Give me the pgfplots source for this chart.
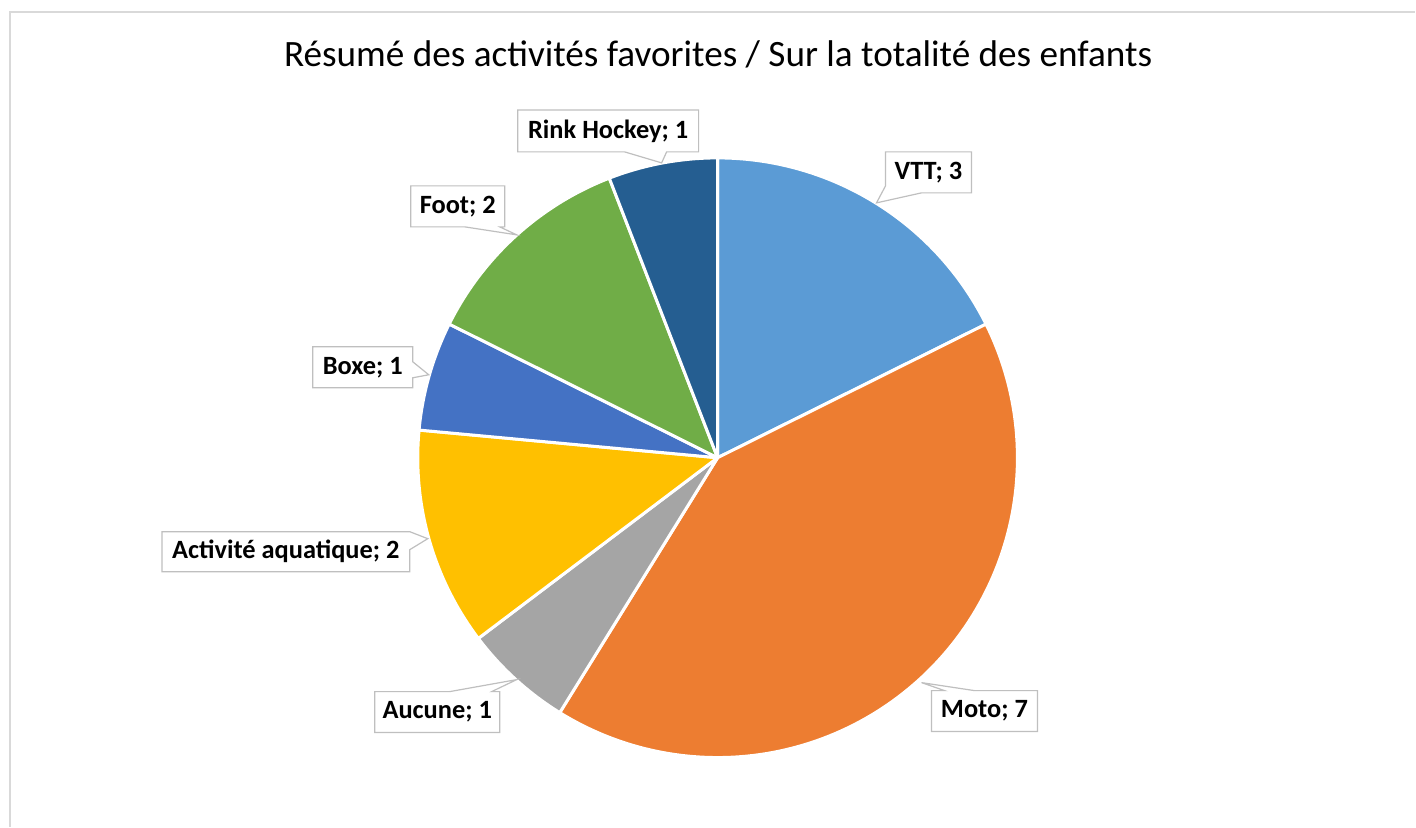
\documentclass[border=0pt]{standalone}
\usepackage{pgfplots}
\pgfplotsset{compat=1.18}
\usepackage{fontspec}
\setmainfont{Carlito}
\definecolor{cVTT}{HTML}{5B9BD5}
\definecolor{cMoto}{HTML}{ED7D31}
\definecolor{cAuc}{HTML}{A5A5A5}
\definecolor{cAqua}{HTML}{FFC000}
\definecolor{cBoxe}{HTML}{4472C4}
\definecolor{cFoot}{HTML}{70AD47}
\definecolor{cRink}{HTML}{255E91}
\definecolor{frame}{HTML}{D9D9D9}
\definecolor{callout}{HTML}{BFBFBF}
% counts: VTT 3, Moto 7, Aucune 1, Activite aquatique 2, Boxe 1, Foot 2, Rink Hockey 1 (total 17)
\pgfmathsetmacro\aA{90}
\pgfmathsetmacro\aB{\aA-360*3/17}
\pgfmathsetmacro\aC{\aB-360*7/17}
\pgfmathsetmacro\aD{\aC-360*1/17}
\pgfmathsetmacro\aE{\aD-360*2/17}
\pgfmathsetmacro\aF{\aE-360*1/17}
\pgfmathsetmacro\aG{\aF-360*2/17}
\pgfmathsetmacro\aH{\aG-360*1/17}
\begin{document}
\begin{tikzpicture}
\begin{axis}[
  width=708pt, height=413.5pt, scale only axis,
  xmin=0, xmax=1416, ymin=0, ymax=827,
  hide axis, clip=false,
]
\path (axis cs:0,0) rectangle (axis cs:1416,827);
\draw[frame, line width=0.8pt] (axis cs:10,0) -- (axis cs:10,815) -- (axis cs:1416,815);
\pgfplotsset{slice/.style={draw=white, line width=1.5pt, line join=round, samples=120, variable=\t}}
\addplot[slice, fill=cVTT, domain=\aB:\aA] ({718+300*cos(t)},{369+300*sin(t)}) -- (axis cs:718,369) -- cycle;
\addplot[slice, fill=cMoto, domain=\aC:\aB] ({718+300*cos(t)},{369+300*sin(t)}) -- (axis cs:718,369) -- cycle;
\addplot[slice, fill=cAuc, domain=\aD:\aC] ({718+300*cos(t)},{369+300*sin(t)}) -- (axis cs:718,369) -- cycle;
\addplot[slice, fill=cAqua, domain=\aE:\aD] ({718+300*cos(t)},{369+300*sin(t)}) -- (axis cs:718,369) -- cycle;
\addplot[slice, fill=cBoxe, domain=\aF:\aE] ({718+300*cos(t)},{369+300*sin(t)}) -- (axis cs:718,369) -- cycle;
\addplot[slice, fill=cFoot, domain=\aG:\aF] ({718+300*cos(t)},{369+300*sin(t)}) -- (axis cs:718,369) -- cycle;
\addplot[slice, fill=cRink, domain=\aH:\aG] ({718+300*cos(t)},{369+300*sin(t)}) -- (axis cs:718,369) -- cycle;
% title
\node[anchor=base, font=\fontsize{18.6}{21}\selectfont] at (axis cs:718.5,760) {Résumé des activités favorites / Sur la totalité des enfants};
% callouts
\tikzset{co/.style={fill=white, draw=callout, line width=0.6pt, line join=miter}}
\tikzset{lab/.style={font=\fontsize{13.2}{15}\selectfont\bfseries}}
\draw[co] (axis cs:518,717) -- (axis cs:699,717) -- (axis cs:699,675) -- (axis cs:667,675) -- (axis cs:662,664) -- (axis cs:625,675) -- (axis cs:518,675) -- cycle;
\node[lab] at (axis cs:608.5,696) {Rink Hockey; 1};
\draw[co] (axis cs:886,675) -- (axis cs:972,675) -- (axis cs:972,634) -- (axis cs:922,634) -- (axis cs:877,624) -- (axis cs:886,641) -- cycle;
\node[lab] at (axis cs:929,654.5) {VTT; 3};
\draw[co] (axis cs:411,641) -- (axis cs:505,641) -- (axis cs:505,600) -- (axis cs:500,600) -- (axis cs:517,592) -- (axis cs:465,600) -- (axis cs:411,600) -- cycle;
\node[lab] at (axis cs:458,620.5) {Foot; 2};
\draw[co] (axis cs:313,480) -- (axis cs:413,480) -- (axis cs:413,465) -- (axis cs:429,452) -- (axis cs:413,449) -- (axis cs:413,439) -- (axis cs:313,439) -- cycle;
\node[lab] at (axis cs:363,459.5) {Boxe; 1};
\draw[co] (axis cs:162,295) -- (axis cs:410,295) -- (axis cs:428,288) -- (axis cs:410,277) -- (axis cs:410,255) -- (axis cs:162,255) -- cycle;
\node[lab] at (axis cs:286,275) {Activité aquatique; 2};
\draw[co] (axis cs:375,135) -- (axis cs:450,135) -- (axis cs:517,147) -- (axis cs:492,135) -- (axis cs:500,135) -- (axis cs:500,94) -- (axis cs:375,94) -- cycle;
\node[lab] at (axis cs:437.5,114.5) {Aucune; 1};
\draw[co] (axis cs:932,136) -- (axis cs:945,136) -- (axis cs:922,144) -- (axis cs:975,136) -- (axis cs:1038,136) -- (axis cs:1038,95) -- (axis cs:932,95) -- cycle;
\node[lab] at (axis cs:985,115.5) {Moto; 7};
\end{axis}
\end{tikzpicture}
\end{document}
